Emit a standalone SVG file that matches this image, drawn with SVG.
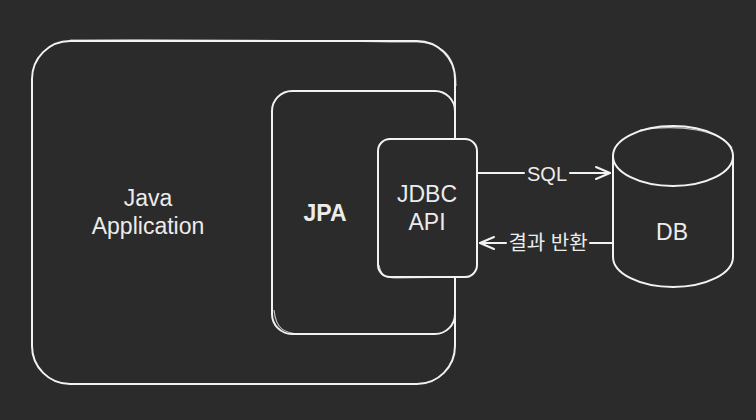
<svg xmlns="http://www.w3.org/2000/svg" width="756" height="420" viewBox="0 0 756 420">
<defs>
<style>
.s{fill:#2b2b2b;stroke:#f2f2f2;stroke-width:2;stroke-linecap:round;stroke-linejoin:round}
.s2{fill:none;stroke:#f2f2f2;stroke-width:1.2;stroke-opacity:0.75}
.l{fill:none;stroke:#f2f2f2;stroke-width:2;stroke-linecap:round;stroke-linejoin:round}
.t{fill:#ececec;font-family:"Liberation Sans",Arial,sans-serif;font-size:23px;text-anchor:middle}
.k{fill:#ececec;font-family:"Liberation Sans","Noto Sans CJK KR",sans-serif;font-size:20px;text-anchor:middle}
</style>
<marker id="ah" viewBox="0 0 16 16" refX="15" refY="8" markerWidth="16" markerHeight="16" markerUnits="userSpaceOnUse" orient="auto">
<path d="M1,2 L15,8 L1,14" fill="none" stroke="#f2f2f2" stroke-width="2" stroke-linecap="round" stroke-linejoin="round"/>
</marker>
</defs>
<rect width="756" height="420" fill="#2b2b2b"/>
<g id="java-app">
<rect class="s" x="32" y="41" width="423" height="343" rx="38"/>
<path class="s2" d="M70,40 C200,39 330,41 418,42 C448,44 456,62 456,86"/>
<text class="t" x="148" y="206">Java</text>
<text class="t" x="148" y="234">Application</text>
</g>
<g id="jpa">
<rect class="s" x="272" y="91" width="183" height="243" rx="20"/>
<path class="s2" d="M274,310 C276,330 285,333 300,334"/>
<text class="t" x="325" y="221" font-weight="bold">JPA</text>
</g>
<g id="jdbc-api">
<rect class="s" x="378" y="139" width="99" height="138" rx="12"/>
<path class="s2" d="M379,265 C381,276 386,278 395,278 L470,277"/>
<text class="t" x="427" y="202">JDBC</text>
<text class="t" x="427" y="230">API</text>
</g>
<g id="db">
<path class="s" d="M613,156 L613,257 A60,30 0 0 0 733,257 L733,156"/>
<ellipse class="s" cx="673" cy="156" rx="60" ry="30"/>
<path class="s2" d="M640,130 C680,124 720,130 732,148"/>
<text class="t" x="672" y="240">DB</text>
</g>
<g id="connectors">
<path class="l" d="M478,173 L524,173"/>
<path class="l" d="M570,173 L610,173" marker-end="url(#ah)"/>
<text class="k" x="547" y="181" font-size="21">SQL</text>
<path class="l" d="M612,243 L590,243"/>
<path class="l" d="M506,243 L480,243" marker-end="url(#ah)"/>
<text class="k" x="548" y="250">결과 반환</text>
</g>
</svg>
